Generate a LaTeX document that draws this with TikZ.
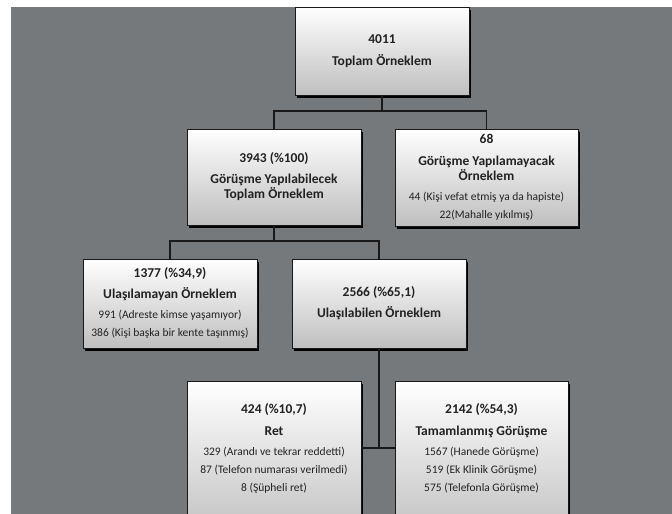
\documentclass[tikz,border=0pt]{standalone}
\usepackage{fontspec}
\setmainfont{Carlito}
\usetikzlibrary{shadows}
\definecolor{bg}{HTML}{76797C}
\definecolor{boxbot}{HTML}{BFBFBF}
\definecolor{ink}{HTML}{222222}
\tikzset{
  box/.style={draw=black!90, line width=0.8pt, top color=white, bottom color=boxbot,
    anchor=north west, inner sep=0pt, outer sep=0pt,
    drop shadow={shadow xshift=2pt, shadow yshift=-2.5pt, opacity=1, fill=black}},
  hd/.style={font=\bfseries\fontsize{13.5}{15}\selectfont, text=ink, anchor=base, inner sep=0pt},
  dt/.style={font=\fontsize{11.5}{13}\selectfont, text=ink, anchor=base, inner sep=0pt},
  conn/.style={draw=black!90, line width=1.1pt}
}
\begin{document}
\begin{tikzpicture}[x=1pt,y=-1pt]
\useasboundingbox (0,0) rectangle (672,514);
\clip (0,0) rectangle (672,514);
\fill[white] (0,0) rectangle (672,514);
\fill[bg] (11,7) rectangle (672,514);

% boxes
\node[box, minimum width=174pt, minimum height=88pt] (b1) at (295,7) {};
\node[box, minimum width=174pt, minimum height=96pt] (b2) at (187,129) {};
\node[box, minimum width=183pt, minimum height=97pt] (b3) at (395,129) {};
\node[box, minimum width=174pt, minimum height=89pt] (b4) at (83,259) {};
\node[box, minimum width=174pt, minimum height=89pt] (b5) at (292,259) {};
\node[box, minimum width=174pt, minimum height=160pt] (b6) at (187,381) {};
\node[box, minimum width=173pt, minimum height=160pt] (b7) at (395,381) {};

% connectors
\coordinate (j1) at (382,111);
\coordinate (j2) at (274,241);
\coordinate (j3) at (379,448);
\draw[conn] (b1.south) -- (j1);
\draw[conn] (b2.north) |- (j1) -| (b3.north);
\draw[conn] (b2.south) -- (j2);
\draw[conn] (b4.north) |- (j2) -| (b5.north);
\draw[conn] (b5.south) -- (j3);
\draw[conn] (b6.east |- j3) -- (b7.west |- j3);

% texts
\node[hd] (t1a) at (382,43.5) {4011};
\node[hd] (t1b) at (382,65.5) {Toplam Örneklem};

\node[hd] (t2a) at (274,162.5) {3943 (\%100)};
\node[hd] (t2b) at (274,183.5) {Görüşme Yapılabilecek};
\node[hd] (t2c) at (274,198.5) {Toplam Örneklem};

\node[hd] (t3a) at (486.5,143.5) {68};
\node[hd] (t3b) at (486.5,165.5) {Görüşme Yapılamayacak};
\node[hd] (t3c) at (486.5,180.5) {Örneklem};
\node[dt] (t3d) at (486.5,200) {44 (Kişi vefat etmiş ya da hapiste)};
\node[dt] (t3e) at (486.5,218) {22(Mahalle yıkılmış)};

\node[hd] (t4a) at (170,277.5) {1377 (\%34,9)};
\node[hd] (t4b) at (170,298.5) {Ulaşılamayan Örneklem};
\node[dt] (t4c) at (170,318) {991 (Adreste kimse yaşamıyor)};
\node[dt] (t4d) at (170,336) {386 (Kişi başka bir kente taşınmış)};

\node[hd] (t5a) at (379,296.5) {2566 (\%65,1)};
\node[hd] (t5b) at (379,317.5) {Ulaşılabilen Örneklem};

\node[hd] (t6a) at (274,413.5) {424 (\%10,7)};
\node[hd] (t6b) at (274,435.5) {Ret};
\node[dt] (t6c) at (274,455) {329 (Arandı ve tekrar reddetti)};
\node[dt] (t6d) at (274,473) {87 (Telefon numarası verilmedi)};
\node[dt] (t6e) at (274,491) {8 (Şüpheli ret)};

\node[hd] (t7a) at (481.5,413.5) {2142 (\%54,3)};
\node[hd] (t7b) at (481.5,435.5) {Tamamlanmış Görüşme};
\node[dt] (t7c) at (481.5,455) {1567 (Hanede Görüşme)};
\node[dt] (t7d) at (481.5,473) {519 (Ek Klinik Görüşme)};
\node[dt] (t7e) at (481.5,491) {575 (Telefonla Görüşme)};
\end{tikzpicture}
\end{document}
